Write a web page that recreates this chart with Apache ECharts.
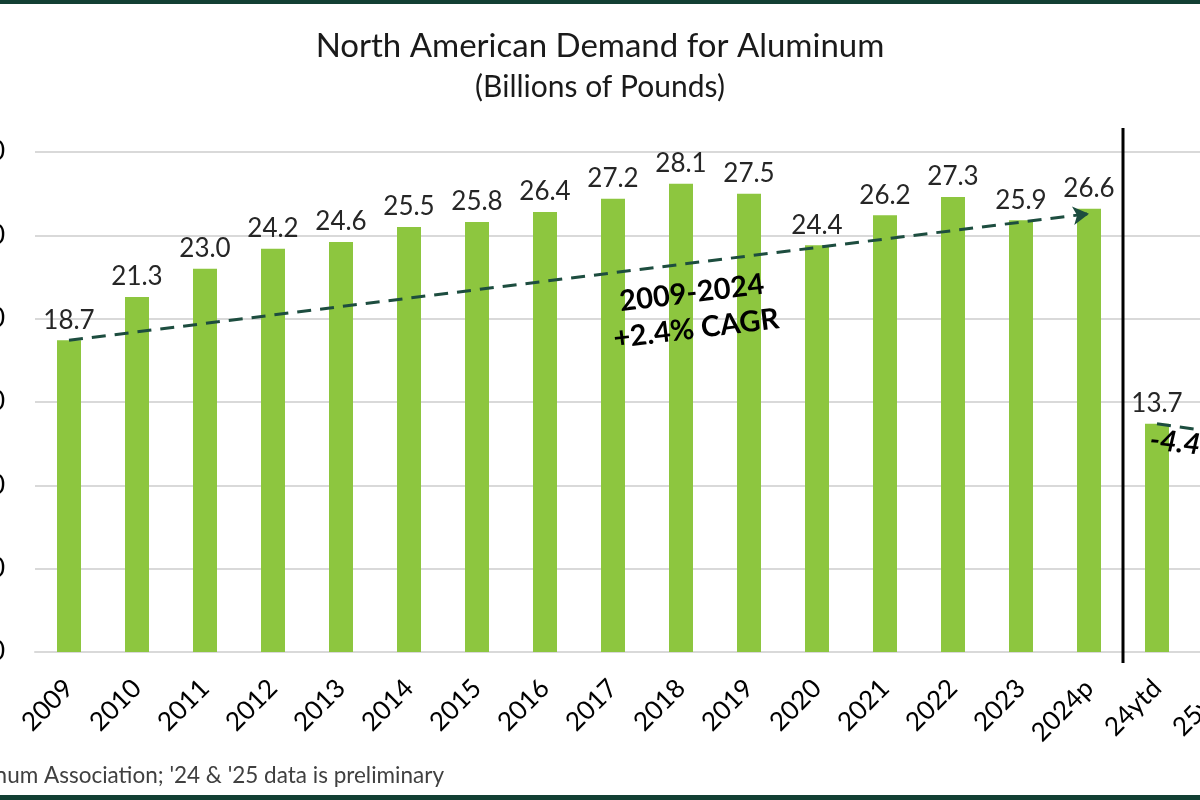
<!DOCTYPE html>
<html>
<head>
<meta charset="utf-8">
<script src="https://cdn.jsdelivr.net/npm/echarts@6/dist/echarts.min.js"></script>
<style>
html,body{margin:0;padding:0;background:#fff;overflow:hidden;width:1200px;height:800px;}
#chart{width:1260px;height:800px;}
</style>
</head>
<body>
<div id="chart"></div>
<script>
const categories = ['2009','2010','2011','2012','2013','2014','2015','2016','2017','2018','2019','2020','2021','2022','2023','2024p','24ytd','25ytd'];
const demand = [18.7,21.3,23.0,24.2,24.6,25.5,25.8,26.4,27.2,28.1,27.5,24.4,26.2,27.3,25.9,26.6,13.7,13.1];
const longTrend = {from:['2009',18.7], to:['2024p',26.3], text:'2009-2024\n+2.4% CAGR'};
const ytdTrend = {from:['24ytd',13.7], to:['25ytd',13.1], text:'-4.4%'};
const yTicks = {min:0, max:30, interval:5};

const FONT = 'Lato';
const chart = echarts.init(document.getElementById('chart'));
const option = {
  animation:false,
  textStyle:{fontFamily:FONT},
  grid:{left:35, right:1, top:152, bottom:148, containLabel:false, outerBoundsMode:'none'},
  xAxis:{type:'category', data:categories,
    axisLine:{lineStyle:{color:'#d9d9d9',width:2}}, axisTick:{show:false},
    axisLabel:{rotate:45, fontSize:26, color:'#000', margin:32, interval:0, fontFamily:FONT}},
  yAxis:{type:'value', min:yTicks.min, max:yTicks.max, interval:yTicks.interval,
    axisLine:{show:false}, axisTick:{show:false},
    splitLine:{lineStyle:{color:'#d9d9d9',width:2}},
    axisLabel:{fontSize:26, color:'#000', margin:30, formatter:v=>v.toFixed(1), fontFamily:FONT}},
  series:[{
    type:'bar', data:demand, barWidth:24,
    itemStyle:{color:'#8dc63f'},
    label:{show:true, position:'top', distance:7, fontSize:26, color:'#262626', fontFamily:FONT, formatter:p=>p.value.toFixed(1)},
    markLine:{silent:true, symbol:['none','arrow'], symbolSize:[14,16],
      label:{show:false},
      lineStyle:{color:'#1d4d3f', width:3, type:[14,9]},
      data:[
        [{coord:longTrend.from},{coord:longTrend.to}],
        [{coord:ytdTrend.from},{coord:ytdTrend.to}]
      ]}
  }]
};
chart.setOption(option);

const xA = chart.convertToPixel({xAxisIndex:0}, '2024p');
const xB = chart.convertToPixel({xAxisIndex:0}, '24ytd');
const sepX = (xA + xB)/2;
chart.setOption({graphic:[
  {type:'rect', z:100, shape:{x:0,y:0,width:1260,height:4}, style:{fill:'#123f33'}},
  {type:'rect', z:100, shape:{x:0,y:795,width:1260,height:5}, style:{fill:'#123f33'}},
  {type:'text', z:100, x:600, y:46, style:{text:'North American Demand for Aluminum', font:'33px Lato', textAlign:'center', textVerticalAlign:'middle', fill:'#1a1a1a'}},
  {type:'text', z:100, x:600, y:87, style:{text:'(Billions of Pounds)', font:'30px Lato', textAlign:'center', textVerticalAlign:'middle', fill:'#1a1a1a'}},
  {type:'line', z:100, shape:{x1:sepX,y1:128,x2:sepX,y2:663}, style:{stroke:'#000',lineWidth:3}},
  {type:'text', z:100, x:694, y:311, rotation:7*Math.PI/180,
    style:{text:longTrend.text, font:'bold 29px Lato', textAlign:'center', textVerticalAlign:'middle', lineHeight:36, fill:'#000'}},
  {type:'text', z:100, x:1150, y:440, rotation:-6*Math.PI/180,
    style:{text:ytdTrend.text, font:'italic bold 29px Lato', textAlign:'left', textVerticalAlign:'middle', fill:'#000'}},
  {type:'text', z:100, x:444, y:776,
    style:{text:"Source: The Aluminum Association; '24 & '25 data is preliminary", font:'22.5px Lato', textAlign:'right', textVerticalAlign:'middle', fill:'#404040'}}
]});
</script>
</body>
</html>
